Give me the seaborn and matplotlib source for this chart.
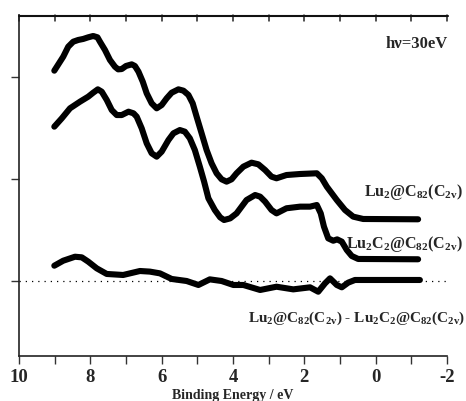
import numpy as np
import pandas as pd
import matplotlib
matplotlib.use("Agg")
import matplotlib.pyplot as plt
from matplotlib.lines import Line2D
import seaborn as sns

# ---- data (binding energy in eV, intensity in arbitrary units) ----
e_lu2 = [9.01, 8.76, 8.62, 8.48, 8.34, 8.20, 8.06, 7.92, 7.80, 7.73, 7.59, 7.45, 7.31, 7.22,
         7.12, 7.00, 6.84, 6.75, 6.65, 6.53, 6.42, 6.28, 6.14, 6.00, 5.86, 5.72, 5.53, 5.39,
         5.25, 5.13, 5.02, 4.88, 4.74, 4.60, 4.46, 4.32, 4.18, 4.04, 3.90, 3.71, 3.48, 3.29,
         3.10, 2.92, 2.78, 2.50, 2.12, 1.65, 1.51, 1.37, 1.09, 0.86, 0.63, 0.35, -1.19]
i_lu2 = [2.062, 2.199, 2.297, 2.346, 2.363, 2.373, 2.389, 2.402, 2.389, 2.346, 2.265, 2.167,
         2.101, 2.075, 2.078, 2.108, 2.124, 2.108, 2.052, 1.954, 1.840, 1.742, 1.693, 1.725,
         1.791, 1.846, 1.879, 1.866, 1.824, 1.742, 1.611, 1.448, 1.284, 1.154, 1.056, 0.997,
         0.974, 0.997, 1.056, 1.121, 1.160, 1.144, 1.088, 1.023, 1.007, 1.039, 1.049, 1.056,
         1.007, 0.925, 0.794, 0.696, 0.631, 0.608, 0.605]

e_lu2c2 = [9.01, 8.80, 8.57, 8.29, 8.06, 7.92, 7.79, 7.68, 7.54, 7.40, 7.26, 7.12, 6.93, 6.79,
           6.70, 6.56, 6.42, 6.28, 6.14, 6.00, 5.81, 5.67, 5.49, 5.35, 5.21, 5.07, 4.93, 4.81,
           4.69, 4.51, 4.36, 4.25, 4.08, 3.90, 3.62, 3.38, 3.24, 3.10, 2.92, 2.78, 2.50, 2.12,
           1.84, 1.65, 1.54, 1.45, 1.33, 1.19, 1.08, 0.95, 0.81, 0.67, 0.49, -1.19]
i_lu2c2 = [1.513, 1.595, 1.693, 1.758, 1.807, 1.846, 1.879, 1.856, 1.775, 1.676, 1.627, 1.627,
           1.660, 1.644, 1.611, 1.497, 1.350, 1.252, 1.219, 1.268, 1.382, 1.448, 1.480, 1.464,
           1.399, 1.284, 1.121, 0.974, 0.811, 0.696, 0.624, 0.598, 0.614, 0.663, 0.794, 0.843,
           0.827, 0.778, 0.696, 0.663, 0.713, 0.729, 0.729, 0.745, 0.663, 0.533, 0.418, 0.395,
           0.408, 0.386, 0.304, 0.245, 0.216, 0.213]

e_diff = [9.01, 8.76, 8.43, 8.24, 8.06, 7.82, 7.54, 7.08, 6.61, 6.33, 6.05, 5.72, 5.30, 4.97,
          4.65, 4.32, 3.99, 3.71, 3.24, 2.78, 2.31, 1.84, 1.61, 1.42, 1.28, 1.09, 0.95, 0.77,
          0.58, -1.24]
i_diff = [0.150, 0.199, 0.238, 0.232, 0.190, 0.124, 0.069, 0.059, 0.098, 0.092, 0.075, 0.020,
          0.0, -0.039, 0.016, 0.0, -0.039, -0.039, -0.088, -0.056, -0.082, -0.062, -0.105,
          -0.023, 0.026, -0.039, -0.062, -0.016, 0.010, 0.010]

x_ticks = [10, 8, 6, 4, 2, 0, -2]
x_minor = [9, 7, 5, 3, 1, -1]
y_ticks = [0, 1, 2]

label_lu2 = r"Lu$_{2}$@C$_{82}$(C$_{\mathrm{2v}}$)"
label_lu2c2 = r"Lu$_{2}$C$_{2}$@C$_{82}$(C$_{\mathrm{2v}}$)"
label_diff = r"Lu$_{2}$@C$_{82}$(C$_{\mathrm{2v}}$) - Lu$_{2}$C$_{2}$@C$_{82}$(C$_{\mathrm{2v}}$)"
title_txt = "hν=30eV"
xlabel_txt = "Binding Energy / eV"

# ---- style ----
sns.set_style("ticks")
plt.rcParams["font.family"] = ["Liberation Serif", "DejaVu Serif"]
plt.rcParams["font.weight"] = "bold"
plt.rcParams["mathtext.fontset"] = "custom"
plt.rcParams["mathtext.rm"] = "Liberation Serif:bold"
plt.rcParams["mathtext.it"] = "Liberation Serif:bold"
plt.rcParams["mathtext.bf"] = "Liberation Serif:bold"

fig = plt.figure(figsize=(4.66, 4.01), dpi=100)
ax = fig.add_axes([19 / 466, 1 - 356 / 401, 428 / 466, 341 / 401])

frames = [
    pd.DataFrame({"E": e_lu2, "I": i_lu2}),
    pd.DataFrame({"E": e_lu2c2, "I": i_lu2c2}),
    pd.DataFrame({"E": e_diff, "I": i_diff}),
]
for df in frames:
    sns.lineplot(data=df, x="E", y="I", sort=False, color="black", lw=4.4,
                 ax=ax, legend=False, solid_capstyle="round", solid_joinstyle="round")

ax.axhline(0, color="black", lw=0.9, ls=(0, (1, 4)), zorder=0)

ax.set_xlim(10, -2)
ax.set_ylim(-75 / 102, 266 / 102)
ax.set_xticks(x_ticks)
ax.set_xticklabels([str(t) for t in x_ticks], fontsize=13.5, fontweight="bold")
ax.set_xticks(x_minor, minor=True)
ax.set_yticks(y_ticks)
ax.set_yticklabels([])
ax.tick_params(axis="x", which="both", direction="out", length=6, width=1,
               pad=3, color="#333333", top=False)
ax.tick_params(axis="y", direction="out", length=6, width=1, color="#333333", right=False)
ax.set_xlabel("")
ax.set_ylabel("")

for sp in ["left", "bottom"]:
    ax.spines[sp].set_linewidth(1.2)
    ax.spines[sp].set_color("#222222")
ax.spines["right"].set_visible(False)
ax.spines["top"].set_visible(False)

# top frame line with inward ticks (no labels), drawn in figure space
y_top = 1 - 15.5 / 401
fig.add_artist(Line2D([19 / 466, 447.5 / 466], [y_top, y_top], transform=fig.transFigure,
                      color="#111111", lw=1.5, zorder=10))
for t in x_ticks + x_minor:
    ax.plot([t, t], [1, 0.983], transform=ax.get_xaxis_transform(), color="#222222",
            lw=1.1, clip_on=False, zorder=10)

fig.text(448 / 466, 1 - 48 / 401, title_txt, ha="right", va="baseline",
         fontsize=12, fontweight="bold")
fig.text(463 / 466, 1 - 196 / 401, label_lu2, ha="right", va="baseline",
         fontsize=11.5, fontweight="bold")
fig.text(463 / 466, 1 - 248 / 401, label_lu2c2, ha="right", va="baseline",
         fontsize=11.5, fontweight="bold")
fig.text(465 / 466, 1 - 322 / 401, label_diff, ha="right", va="baseline",
         fontsize=11.0, fontweight="bold")
fig.text(233 / 466, 1 - 389 / 401, xlabel_txt, ha="center", va="top",
         fontsize=10, fontweight="bold")

fig.savefig("out.png", dpi=100)
